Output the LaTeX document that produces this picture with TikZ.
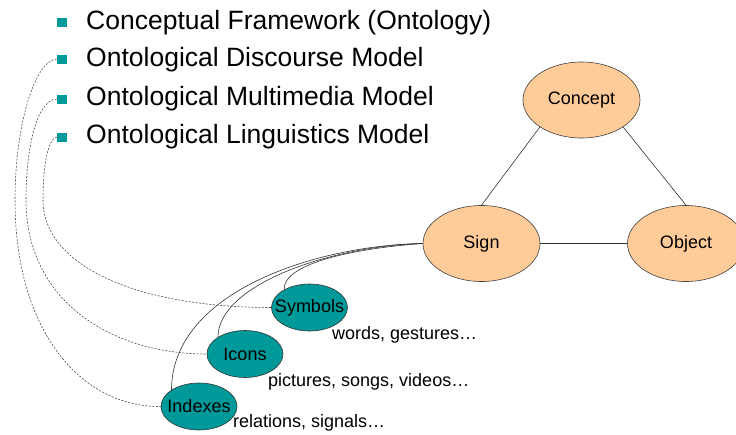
\documentclass[tikz,border=0pt]{standalone}
\usepackage{fontspec}
\setmainfont{Liberation Sans}
\usetikzlibrary{shapes.geometric}
\definecolor{peach}{HTML}{FFCC99}
\definecolor{tealfill}{HTML}{009999}
% label that may overhang the oval it sits in
\newcommand{\ovaltext}[1]{\makebox[0pt]{#1}}
\begin{document}
\begin{tikzpicture}[x=1pt,y=-1pt,
  bigoval/.style={ellipse,draw=black!75,line width=0.6pt,fill=peach,
    minimum width=117pt,minimum height=76pt,inner sep=0pt,font=\fontsize{18}{20}\selectfont},
  smalloval/.style={ellipse,draw=black!80,line width=0.6pt,fill=tealfill,
    minimum width=76pt,minimum height=47pt,inner sep=0pt,font=\fontsize{18}{20}\selectfont},
  bulletsq/.style={fill=tealfill,minimum width=10pt,minimum height=9pt,inner sep=0pt},
  item/.style={anchor=base west,inner sep=0pt,font=\fontsize{26.5}{30}\selectfont},
  note/.style={anchor=west,inner sep=0pt,font=\fontsize{18}{20}\selectfont},
  link/.style={draw=black!80,line width=0.6pt},
  trace/.style={draw=black!75,line width=0.55pt,dash pattern=on 2pt off 1.5pt}]
\useasboundingbox (0,0) rectangle (736,434);

% bullet list
\node[bulletsq] (b1) at (62,22) {};
\node[bulletsq] (b2) at (62,59) {};
\node[bulletsq] (b3) at (62,99) {};
\node[bulletsq] (b4) at (62,137) {};
\node[item] (t1) at (86,29) {Conceptual Framework (Ontology)};
\node[item] (t2) at (86,66) {Ontological Discourse Model};
\node[item] (t3) at (86,105) {Ontological Multimedia Model};
\node[item] (t4) at (86,143) {Ontological Linguistics Model};

% semiotic triangle
\node[bigoval] (concept) at (581.5,100) {\ovaltext{Concept}};
\node[bigoval] (sign) at (481.5,243.5) {\ovaltext{Sign}};
\node[bigoval] (object) at (686,243.5) {\ovaltext{Object}};
\draw[link] (concept.213) -- (sign.north);
\draw[link] (concept.327) -- (object.north);
\draw[link] (sign.east) -- (object.west);

% kinds of sign
\node[smalloval] (symbols) at (309.5,307.5) {\ovaltext{Symbols}};
\node[smalloval] (icons) at (245,354) {\ovaltext{Icons}};
\node[smalloval] (indexes) at (199,406.5) {\ovaltext{Indexes}};
\node[note] (n1) at (332,335) {words, gestures\ldots};
\node[note] (n2) at (268,382) {pictures, songs, videos\ldots};
\node[note] (n3) at (233,423) {relations, signals\ldots};

\draw[link] (sign.west) .. controls (360,248) and (283,262) .. (symbols.145);
\draw[link] (sign.west) .. controls (330,246) and (218,285) .. (icons.148);
\draw[link] (sign.west) .. controls (320,245) and (172,290) .. (indexes.149);

% dashed traces from the models to the kinds of sign
\draw[trace] (b2.west) .. controls (35,60) and (15,125) .. (15,200)
  .. controls (15,330) and (80,407) .. (indexes.west);
\draw[trace] (b3.west) .. controls (36,100) and (26,150) .. (26,200)
  .. controls (26,300) and (110,354) .. (icons.west);
\draw[trace] (b4.west) .. controls (47,139) and (43,170) .. (43,200)
  .. controls (43,265) and (135,307.5) .. (symbols.west);
\end{tikzpicture}
\end{document}
